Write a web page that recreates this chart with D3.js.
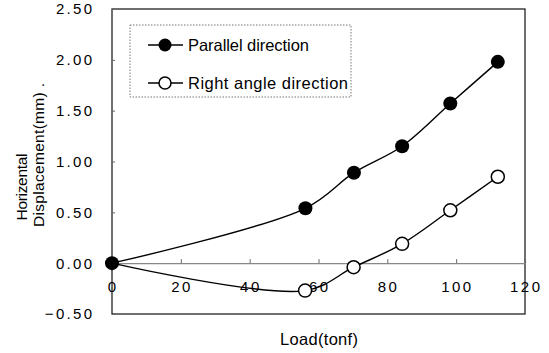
<!DOCTYPE html>
<html><head><meta charset="utf-8">
<script src="https://cdn.jsdelivr.net/npm/d3@7"></script>
<style>body{margin:0;background:#fff}text{font-family:Arial,"Liberation Sans",sans-serif;fill:#000}</style>
</head><body><svg id="c" width="549" height="353"></svg>
<script>
const loadParallel = [0, 56.2, 70.3, 84.3, 98.3, 112.1];
const dispParallel = [0, 0.54, 0.89, 1.15, 1.57, 1.98];
const loadRight = [0, 56.1, 70.2, 84.3, 98.3, 112.1];
const dispRight = [0, -0.27, -0.04, 0.19, 0.52, 0.85];
const xTicks = [0, 20, 40, 60, 80, 100, 120];
const yTicks = [-0.5, 0, 0.5, 1.0, 1.5, 2.0, 2.5];
const seriesNames = ["Parallel direction", "Right angle direction"];

const svg = d3.select("#c");
const L = 112, R = 525, T = 9, B = 314;
const x = d3.scaleLinear().domain([0, 120]).range([L, R]);
const y = d3.scaleLinear().domain([-0.5, 2.5]).range([B, T]);

// frame
svg.append("rect").attr("x", L).attr("y", T).attr("width", R - L).attr("height", B - T)
  .attr("fill", "none").attr("stroke", "#222").attr("stroke-width", 1.3);

// zero line axis with ticks upward
const xAxis = d3.axisTop(x).tickValues(xTicks).tickSize(4).tickFormat("");
const gx = svg.append("g").attr("transform", `translate(0,${y(0)})`).call(xAxis);
gx.select(".domain").attr("stroke", "#888").attr("stroke-width", 1.2);
gx.selectAll(".tick line").attr("stroke", "#666");

// x tick labels
const ls = 2.5;
svg.append("g").selectAll("text").data(xTicks).join("text")
  .attr("x", d => x(d) + ls / 2).attr("y", 292).attr("text-anchor", "middle")
  .attr("font-size", 15).attr("letter-spacing", ls).text(d => d);

// y axis
const yAxis = d3.axisRight(y).tickValues(yTicks).tickSize(3).tickFormat("");
const gy = svg.append("g").attr("transform", `translate(${L},0)`).call(yAxis);
gy.select(".domain").remove();
gy.selectAll(".tick line").attr("stroke", "#666");
svg.append("g").selectAll("text").data(yTicks).join("text")
  .attr("x", 92 + 2.3).attr("y", d => y(d)).attr("dy", "0.36em").attr("text-anchor", "end")
  .attr("font-size", 15).attr("letter-spacing", 2.3)
  .text(d => d3.format(".2f")(d).replace("-", "\u2212"));

// y label
svg.append("text").attr("transform", "translate(27,187) rotate(-90)")
  .attr("text-anchor", "middle").attr("font-size", 15.5)
  .attr("textLength", 67).attr("lengthAdjust", "spacing").text("Horizental");
svg.append("text").attr("transform", "translate(44,155) rotate(-90)")
  .attr("text-anchor", "middle").attr("font-size", 15.5)
  .attr("textLength", 144).attr("lengthAdjust", "spacing").text("Displacement(mm) .");

// x label
svg.append("text").attr("x", 319).attr("y", 345).attr("text-anchor", "middle")
  .attr("font-size", 16.5).attr("textLength", 78).attr("lengthAdjust", "spacing").text("Load(tonf)");

const line = d3.line().x(d => x(d[0])).y(d => y(d[1])).curve(d3.curveCatmullRom.alpha(0.5));
const pPar = loadParallel.map((v, i) => [v, dispParallel[i]]);
const pRight = loadRight.map((v, i) => [v, dispRight[i]]);

svg.append("path").attr("d", line(pRight)).attr("fill", "none").attr("stroke", "#000").attr("stroke-width", 1.4);
svg.append("path").attr("d", line(pPar)).attr("fill", "none").attr("stroke", "#000").attr("stroke-width", 1.4);

svg.append("g").selectAll("circle").data(pRight.slice(1)).join("circle")
  .attr("cx", d => x(d[0])).attr("cy", d => y(d[1])).attr("r", 6.5)
  .attr("fill", "#fff").attr("stroke", "#000").attr("stroke-width", 1.5);
svg.append("g").selectAll("circle").data(pPar).join("circle")
  .attr("cx", d => x(d[0])).attr("cy", d => y(d[1])).attr("r", 7)
  .attr("fill", "#000");

// legend
const lg = svg.append("g");
lg.append("rect").attr("x", 130).attr("y", 25).attr("width", 221).attr("height", 72)
  .attr("fill", "#fff").attr("stroke", "#777").attr("stroke-dasharray", "1.5,1.5");
const rowsY = [45, 83];
const textLens = [121, 160];
seriesNames.forEach((name, i) => {
  lg.append("line").attr("x1", 148).attr("x2", 183).attr("y1", rowsY[i]).attr("y2", rowsY[i])
    .attr("stroke", "#000").attr("stroke-width", 1.4);
  if (i === 0) lg.append("circle").attr("cx", 165).attr("cy", rowsY[i]).attr("r", 6.5).attr("fill", "#000");
  else lg.append("circle").attr("cx", 165).attr("cy", rowsY[i]).attr("r", 6).attr("fill", "#fff").attr("stroke", "#000").attr("stroke-width", 1.5);
  lg.append("text").attr("x", 188).attr("y", rowsY[i] + 6).attr("font-size", 16.5)
    .attr("textLength", textLens[i]).attr("lengthAdjust", "spacing").text(name);
});
</script></body></html>
